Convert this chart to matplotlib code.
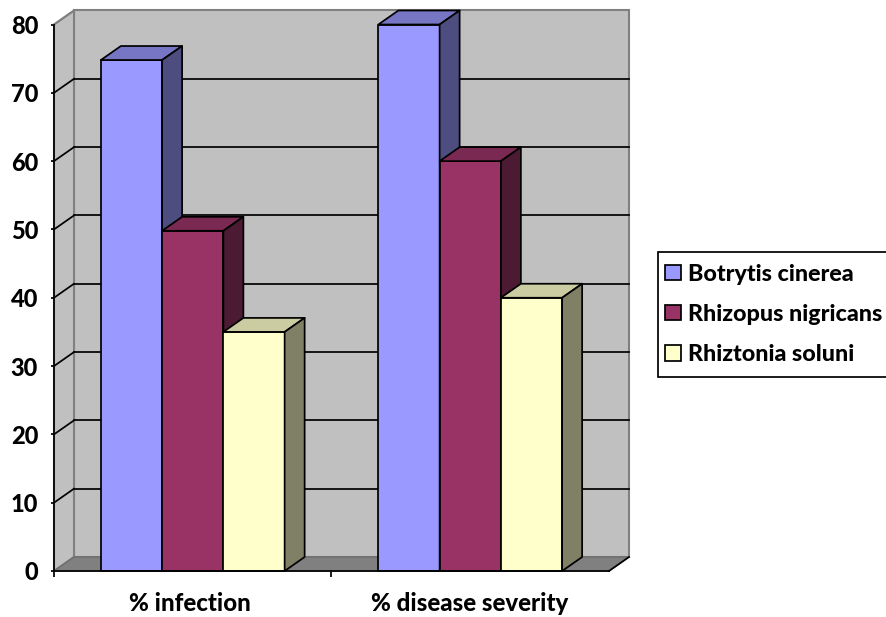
import matplotlib
matplotlib.use("Agg")
import matplotlib.pyplot as plt
from matplotlib.patches import Polygon, Patch, Rectangle
from matplotlib.transforms import ScaledTranslation

categories = ["% infection", "% disease severity"]
series_names = ["Botrytis cinerea", "Rhizopus nigricans", "Rhiztonia soluni"]
botrytis = [74.8, 80]
rhizopus = [49.8, 60]
rhiztonia = [35, 40]
y_ticks = [0, 10, 20, 30, 40, 50, 60, 70, 80]

front = ["#9999FF", "#993366", "#FFFFCC"]
top = ["#7676C4", "#7A2952", "#CCCCA3"]
side = ["#4D4D80", "#4D1A33", "#808066"]

W, H = 887, 617
plt.rcParams["font.family"] = ["Lato", "DejaVu Sans"]
plt.rcParams["font.weight"] = "bold"
fig = plt.figure(figsize=(W / 100, H / 100), dpi=100, facecolor="white")

L, R, B, T = 54, 609, 571, 24.5
ax = fig.add_axes([L / W, 1 - B / H, (R - L) / W, (B - T) / H])
ax.set_xlim(-0.5, 1.5)
ax.set_ylim(0, 80)
ax.patch.set_visible(False)

# depth offset of the 3-D box, in data units
px_x = 2 / (R - L)
px_y = 80 / (B - T)
dx, dy = 20 * px_x, 14 * px_y
EDGE = 1.25

x0, x1, y0, y1 = -0.5, 1.5, 0, 80
kw = dict(clip_on=False)
# back wall
ax.add_patch(Polygon([(x0 + dx, y0 + dy), (x1 + dx, y0 + dy), (x1 + dx, y1 + dy), (x0 + dx, y1 + dy)],
                     fc="#C0C0C0", ec="#808080", lw=1.5, zorder=1, **kw))
# side wall
ax.add_patch(Polygon([(x0, y0), (x0 + dx, y0 + dy), (x0 + dx, y1 + dy), (x0, y1)],
                     fc="#C0C0C0", ec="#808080", lw=1.5, zorder=1, **kw))
# gridlines: across the side wall and the back wall
for v in y_ticks[1:]:
    if v < 80:
        ax.plot([x0 + dx, x1 + dx], [v + dy, v + dy], color="black", lw=EDGE, zorder=2, **kw)
    ax.plot([x0, x0 + dx], [v, v + dy], color="black" if v < 80 else "#808080", lw=EDGE, zorder=2, **kw)
# floor
ax.add_patch(Polygon([(x0, y0), (x1, y0), (x1 + dx, y0 + dy), (x0 + dx, y0 + dy)],
                     fc="#808080", ec="#6E6E6E", lw=1.0, zorder=2, **kw))
ax.plot([x1, x1 + dx], [y0, y0 + dy], color="black", lw=EDGE, zorder=2, **kw)

# bars
bw = 1 / 4.53
z = 3
for g in range(len(categories)):
    for s, vals in enumerate([botrytis, rhizopus, rhiztonia]):
        left = g + (s - 1.5) * bw
        right = left + bw
        v = vals[g]
        ax.add_patch(Rectangle((left, 0), bw, v, fc=front[s], ec="black", lw=EDGE, zorder=z, joinstyle="round", **kw))
        ax.add_patch(Polygon([(left, v), (right, v), (right + dx, v + dy), (left + dx, v + dy)],
                             fc=top[s], ec="black", lw=EDGE, zorder=z, joinstyle="round", **kw))
        ax.add_patch(Polygon([(right, 0), (right + dx, dy), (right + dx, v + dy), (right, v)],
                             fc=side[s], ec="black", lw=EDGE, zorder=z, joinstyle="round", **kw))
        z += 1

# axes
for sp in ["top", "right"]:
    ax.spines[sp].set_visible(False)
ax.spines["left"].set_linewidth(EDGE)
ax.spines["bottom"].set_linewidth(EDGE)
ax.spines["left"].set_zorder(30)
ax.spines["bottom"].set_zorder(30)
ax.set_yticks(y_ticks)
ax.set_yticklabels([str(v) for v in y_ticks], fontsize=17, fontweight="black")
ax.tick_params(axis="y", length=2.5, width=EDGE, pad=9, zorder=30)
ax.set_xticks([0, 1])
ax.set_xticks([-0.5, 0.5], minor=True)
ax.set_xticklabels(categories, fontsize=17.3, fontweight="black")
ax.tick_params(axis="x", which="major", length=0, pad=15)
ax.tick_params(axis="x", which="minor", length=4, width=EDGE)
for lab, off in zip(ax.get_xticklabels(), [-3, -1]):
    lab.set_transform(lab.get_transform() + ScaledTranslation(off / 100, 0, fig.dpi_scale_trans))

# legend
fig.add_artist(Rectangle((657.5 / W, 1 - 376.5 / H), 235 / W, 124.5 / H, transform=fig.transFigure,
                         fc="white", ec="black", lw=1.25, clip_on=True))
handles = [Patch(fc=c, ec="black", lw=EDGE) for c in front]
fig.legend(handles, series_names, loc="upper left", bbox_to_anchor=(665 / W, 1 - 263.5 / H),
           frameon=False, borderaxespad=0, borderpad=0, handlelength=0.67, handleheight=0.63,
           handletextpad=0.32, labelspacing=0.83, prop=dict(family="Lato", weight="black", size=16.75))

fig.savefig("out.png", dpi=100)
